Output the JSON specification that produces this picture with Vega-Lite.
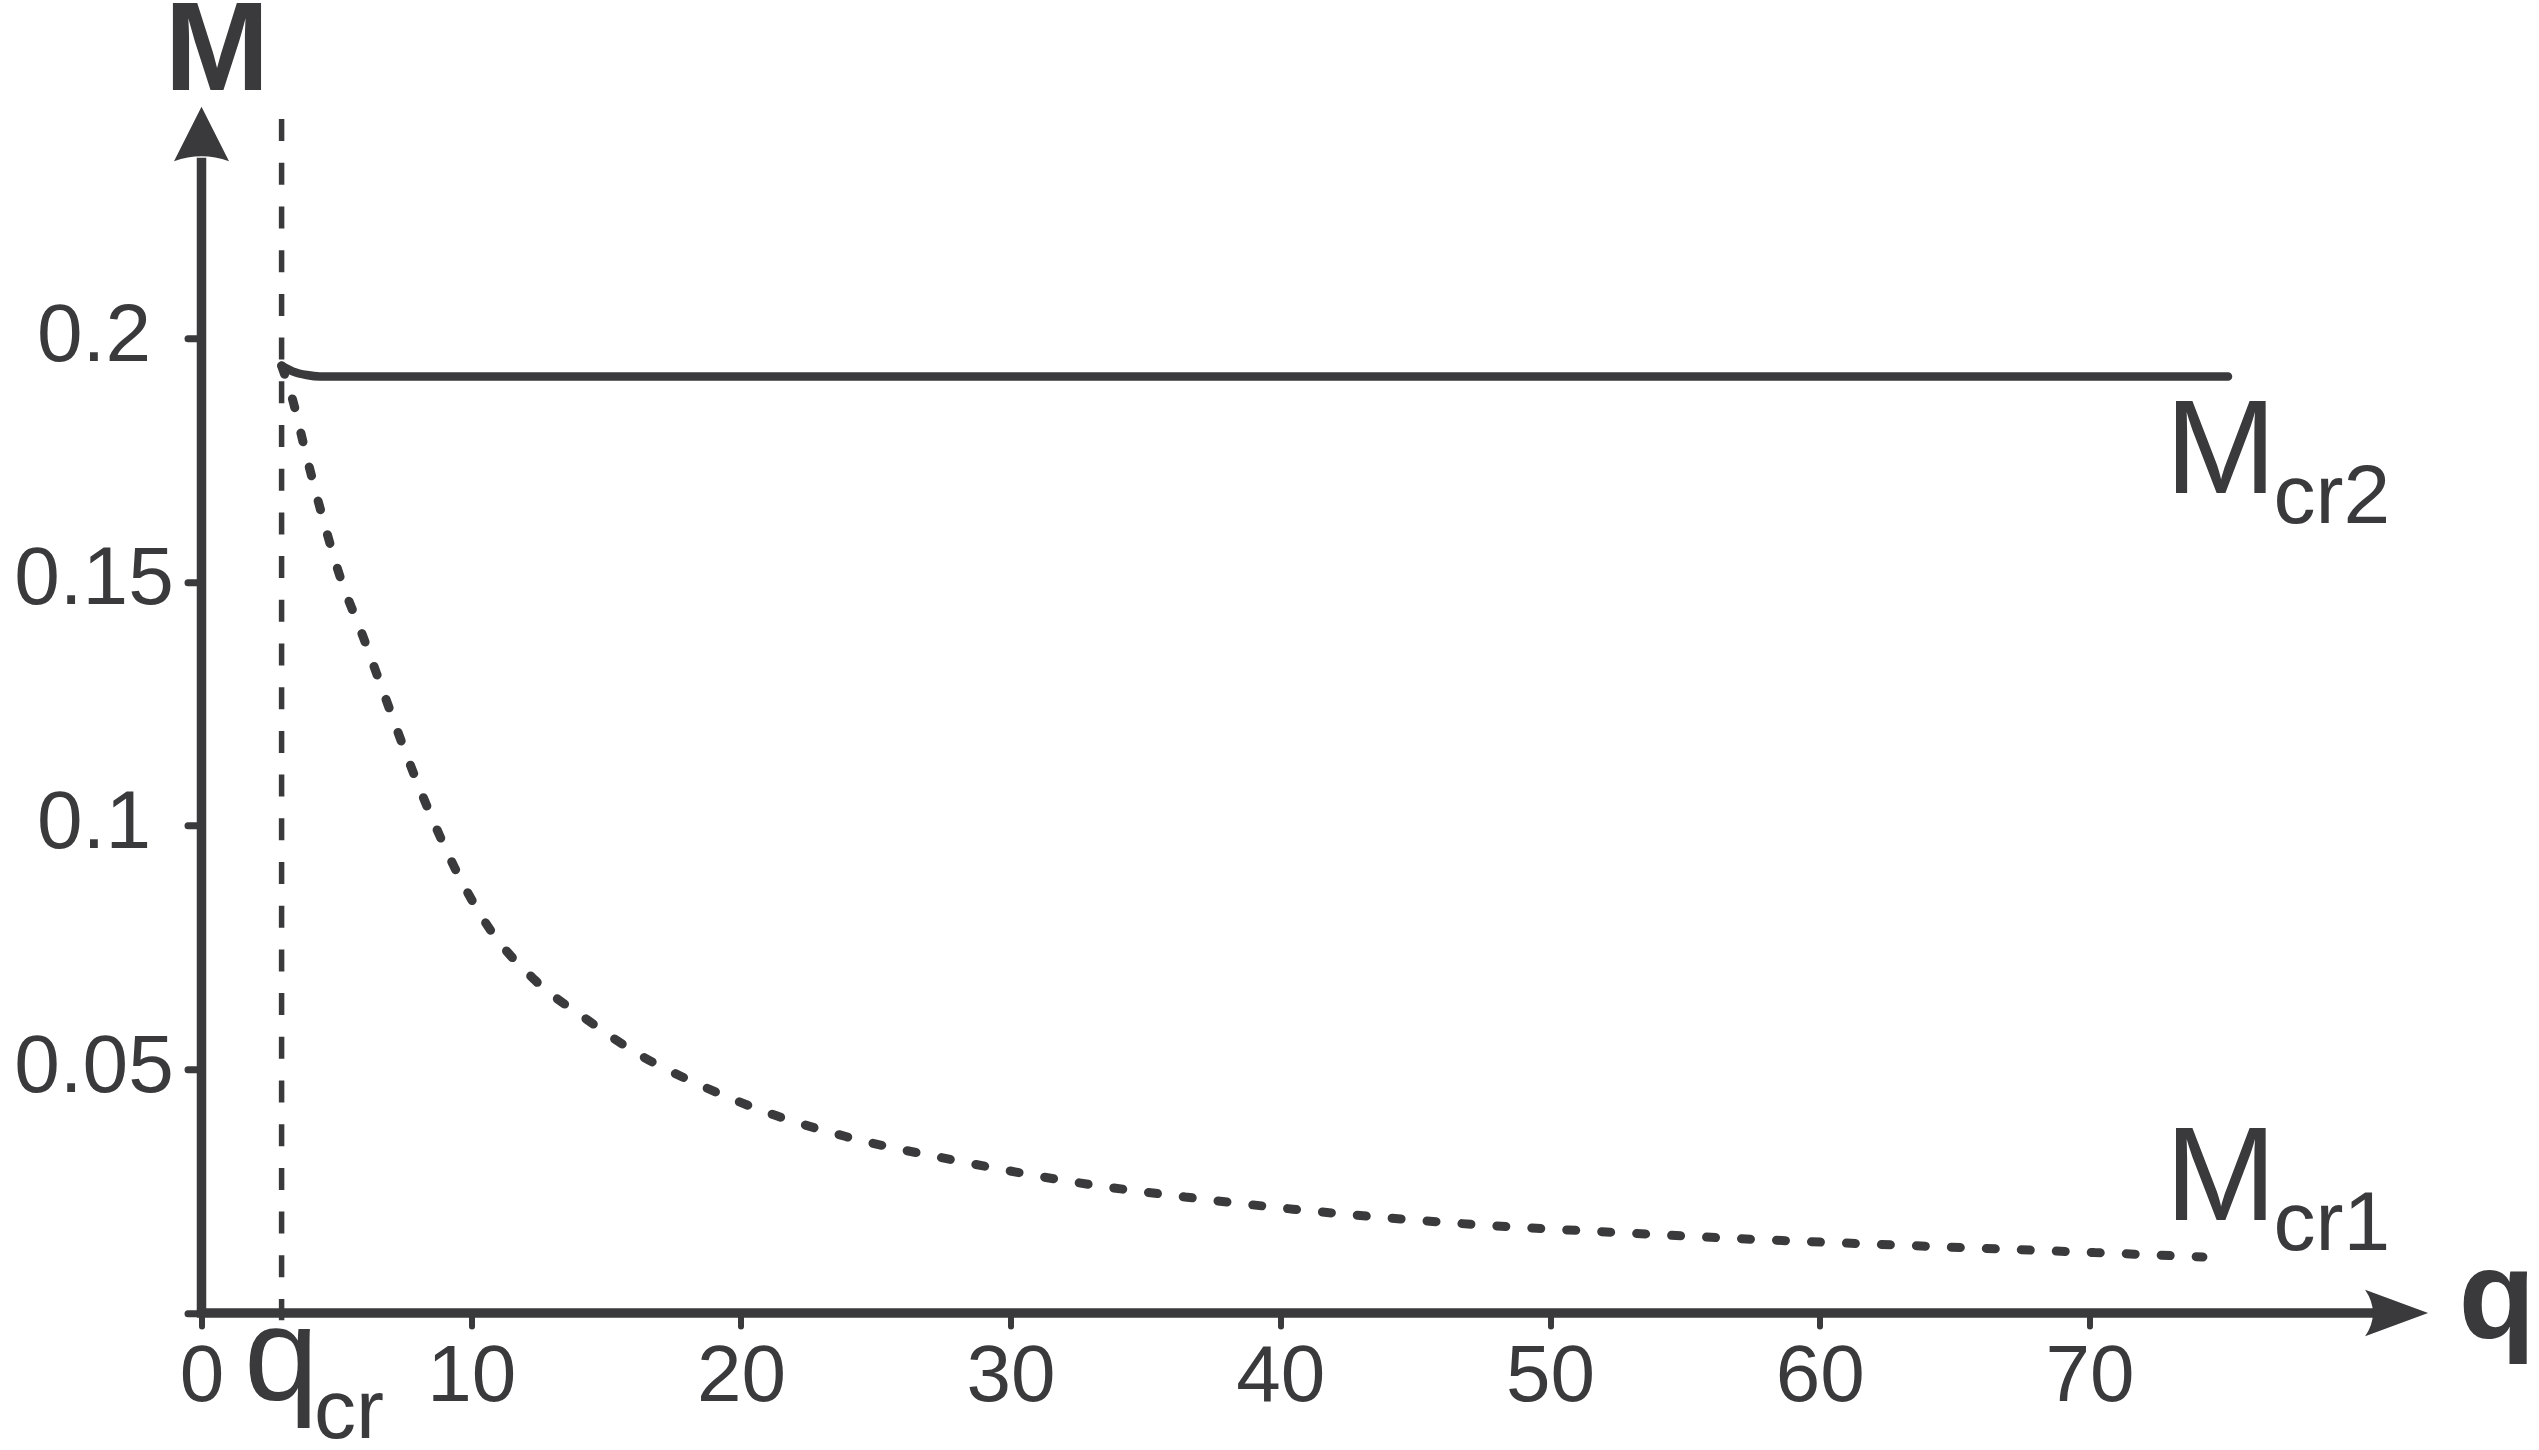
{
  "$schema": "https://vega.github.io/schema/vega-lite/v6.json",
  "width": 2292.45,
  "height": 1218.75,
  "autosize": {"type": "none"},
  "padding": {"left": 201.5, "top": 94.25, "right": 45.05, "bottom": 137},
  "background": "white",
  "config": {
    "view": {"stroke": null},
    "axis": {"grid": false, "domain": false, "title": null, "labelFont": "Liberation Sans", "labelColor": "#3a3a3c", "tickColor": "#3a3a3c", "tickCap": "round", "labelOverlap": false, "labelFlush": false, "labelBound": false}
  },
  "datasets": {
    "axes": [
      {"q": -0.17, "q2": 80.6, "M": 0, "M2": 0},
      {"q": 0, "q2": 0, "M": 0, "M2": 0.237}
    ],
    "qcr": [{"q": 2.97, "M": 0.2449, "M2": -0.0015}],
    "mcr2": [
      {"q": 2.97, "M": 0.1943},
      {"q": 3.40, "M": 0.1931},
      {"q": 3.90, "M": 0.1924},
      {"q": 4.39, "M": 0.1921},
      {"q": 10, "M": 0.1921},
      {"q": 75.14, "M": 0.1921}
    ],
    "mcr1": [
      {"q": 2.97, "M": 0.1943},
      {"q": 3.34, "M": 0.1881},
      {"q": 3.90, "M": 0.1756},
      {"q": 4.49, "M": 0.1632},
      {"q": 5.14, "M": 0.1510},
      {"q": 5.98, "M": 0.1389},
      {"q": 6.78, "M": 0.1268},
      {"q": 7.57, "M": 0.1149},
      {"q": 8.44, "M": 0.1029},
      {"q": 9.40, "M": 0.0912},
      {"q": 10.72, "M": 0.0785},
      {"q": 12.34, "M": 0.0684},
      {"q": 14.34, "M": 0.0600},
      {"q": 16.20, "M": 0.0531},
      {"q": 18.51, "M": 0.0467},
      {"q": 21.35, "M": 0.0404},
      {"q": 23.89, "M": 0.0362},
      {"q": 27.77, "M": 0.0315},
      {"q": 33.01, "M": 0.0263},
      {"q": 36.47, "M": 0.0238},
      {"q": 40.47, "M": 0.0213},
      {"q": 44.46, "M": 0.0193},
      {"q": 48.45, "M": 0.0177},
      {"q": 51.48, "M": 0.0168},
      {"q": 56.82, "M": 0.0153},
      {"q": 63.51, "M": 0.0138},
      {"q": 70.19, "M": 0.0124},
      {"q": 74.21, "M": 0.0115}
    ],
    "arrowX": [{"q": 81.39, "M": 0}],
    "arrowY": [{"q": 0, "M": 0.2418}],
    "boldLabels": [
      {"label": "M", "q": 0.575, "M": 0.25087},
      {"label": "q", "q": 85.11, "M": -0.00513}
    ],
    "bigLabels": [
      {"label": "M", "q": 72.80, "M": 0.1682},
      {"label": "M", "q": 72.80, "M": 0.01908},
      {"label": "q", "q": 1.576, "M": -0.01785}
    ],
    "subLabels": [
      {"label": "cr2", "q": 76.83, "M": 0.1621},
      {"label": "cr1", "q": 76.83, "M": 0.01292},
      {"label": "cr", "q": 4.17, "M": -0.02564}
    ]
  },
  "layer": [
    {
      "data": {"name": "axes"},
      "mark": {"type": "rule", "color": "#3a3a3c", "strokeWidth": 9.5},
      "encoding": {
        "x": {
          "field": "q", "type": "quantitative",
          "scale": {"domain": [0, 85], "nice": false, "zero": false},
          "axis": {
            "orient": "bottom",
            "values": [0, 10, 20, 30, 40, 50, 60, 70],
            "tickSize": 13, "tickWidth": 6,
            "labelFontSize": 80, "labelPadding": 11,
            "labelExpr": "format(datum.value, 'd')",
            "encode": {"labels": {"update": {"dx": {"signal": "datum.value === 0 ? -1 : 14"}}}}
          }
        },
        "x2": {"field": "q2"},
        "y": {
          "field": "M", "type": "quantitative",
          "scale": {"domain": [0, 0.25], "nice": false, "zero": false},
          "axis": {
            "orient": "left",
            "values": [0, 0.05, 0.1, 0.15, 0.2],
            "tickSize": 14, "tickWidth": 7,
            "labelFontSize": 82, "labelPadding": 94, "labelAlign": "center", "labelBaseline": "middle",
            "labelOffset": -3,
            "labelExpr": "datum.value === 0 ? '' : format(datum.value, '~g')"
          }
        },
        "y2": {"field": "M2"}
      }
    },
    {
      "data": {"name": "qcr"},
      "mark": {"type": "rule", "color": "#3a3a3c", "strokeWidth": 5.5, "strokeDash": [22, 21.7]},
      "encoding": {
        "x": {"field": "q", "type": "quantitative"},
        "y": {"field": "M", "type": "quantitative"},
        "y2": {"field": "M2"}
      }
    },
    {
      "data": {"name": "mcr2"},
      "mark": {"type": "line", "color": "#3a3a3c", "strokeWidth": 8.5, "strokeCap": "round", "interpolate": "monotone"},
      "encoding": {
        "x": {"field": "q", "type": "quantitative"},
        "y": {"field": "M", "type": "quantitative"}
      }
    },
    {
      "data": {"name": "mcr1"},
      "mark": {"type": "line", "color": "#3a3a3c", "strokeWidth": 9, "strokeCap": "round", "strokeDash": [9, 26], "interpolate": "monotone"},
      "encoding": {
        "x": {"field": "q", "type": "quantitative"},
        "y": {"field": "M", "type": "quantitative"}
      }
    },
    {
      "data": {"name": "arrowX"},
      "mark": {"type": "point", "filled": true, "opacity": 1, "color": "#3a3a3c", "strokeWidth": 0, "size": 3969, "shape": "M1,0L-1,-0.74Q-0.5,0,-1,0.74Z"},
      "encoding": {
        "x": {"field": "q", "type": "quantitative"},
        "y": {"field": "M", "type": "quantitative"}
      }
    },
    {
      "data": {"name": "arrowY"},
      "mark": {"type": "point", "filled": true, "opacity": 1, "color": "#3a3a3c", "strokeWidth": 0, "size": 3025, "shape": "M0,-1L1,0.98Q0,0.62,-1,0.98Z"},
      "encoding": {
        "x": {"field": "q", "type": "quantitative"},
        "y": {"field": "M", "type": "quantitative"}
      }
    },
    {
      "data": {"name": "boldLabels"},
      "mark": {"type": "text", "font": "Liberation Sans", "fontWeight": "bold", "fontSize": 126, "color": "#3a3a3c", "baseline": "alphabetic", "align": "center"},
      "encoding": {
        "x": {"field": "q", "type": "quantitative"},
        "y": {"field": "M", "type": "quantitative"},
        "text": {"field": "label"}
      }
    },
    {
      "data": {"name": "bigLabels"},
      "mark": {"type": "text", "font": "Liberation Sans", "fontSize": 134, "color": "#3a3a3c", "baseline": "alphabetic", "align": "left"},
      "encoding": {
        "x": {"field": "q", "type": "quantitative"},
        "y": {"field": "M", "type": "quantitative"},
        "text": {"field": "label"}
      }
    },
    {
      "data": {"name": "subLabels"},
      "mark": {"type": "text", "font": "Liberation Sans", "fontSize": 84, "color": "#3a3a3c", "baseline": "alphabetic", "align": "left"},
      "encoding": {
        "x": {"field": "q", "type": "quantitative"},
        "y": {"field": "M", "type": "quantitative"},
        "text": {"field": "label"}
      }
    }
  ]
}
